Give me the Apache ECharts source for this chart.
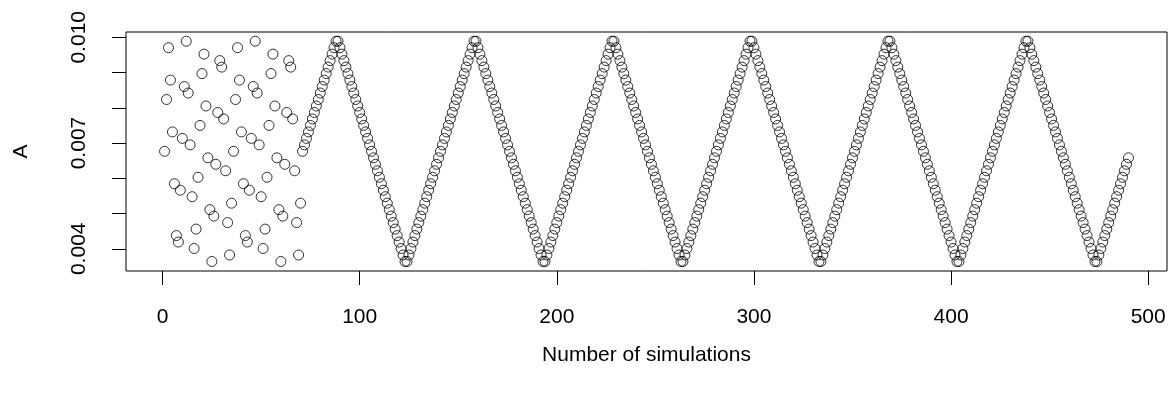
<!DOCTYPE html>
<html>
<head>
<meta charset="utf-8">
<script src="https://cdn.jsdelivr.net/npm/echarts@6/dist/echarts.min.js"></script>
<style>
html,body{margin:0;padding:0;background:#fff;}
#chart{width:1172px;height:398px;}
</style>
</head>
<body>
<div id="chart"></div>
<script>
// Values (one value per simulation, x = 1..490)
var scatterBlockA = [0.006765,0.008235,0.009705,0.008786,0.007316,0.005846,0.004375,0.004191,0.005662,0.007132,0.008603,0.009889,0.008419,0.006948,0.005478,0.004008,0.004559,0.006029,0.0075,0.00897,0.009522,0.008051,0.006581,0.00511,0.00364,0.004927,0.006397,0.007867,0.009338,0.009154,0.007684,0.006213,0.004743,0.003824,0.005294];
var scatterBlockB = [0.006765,0.008235,0.009705,0.008786,0.007316,0.005846,0.004375,0.004191,0.005662,0.007132,0.008603,0.009889,0.008419,0.006948,0.005478,0.004008,0.004559,0.006029,0.0075,0.00897,0.009522,0.008051,0.006581,0.00511,0.00364,0.004927,0.006397,0.007867,0.009338,0.009154,0.007684,0.006213,0.004743,0.003824,0.005294];
var firstRise = [0.006765,0.006948,0.007132,0.007316,0.0075,0.007684,0.007867,0.008051,0.008235,0.008419,0.008603,0.008786,0.00897,0.009154,0.009338,0.009522,0.009705,0.009889,0.009889];
var wave = [
0.009705,0.009522,0.009338,0.009154,0.00897,0.008786,0.008603,0.008419,0.008235,0.008051,0.007867,0.007684,0.0075,0.007316,0.007132,0.006948,0.006765,0.006581,0.006397,0.006213,0.006029,0.005846,0.005662,0.005478,0.005294,0.00511,0.004927,0.004743,0.004559,0.004375,0.004191,0.004008,0.003824,0.00364,0.00364,
0.003824,0.004008,0.004191,0.004375,0.004559,0.004743,0.004927,0.00511,0.005294,0.005478,0.005662,0.005846,0.006029,0.006213,0.006397,0.006581,0.006765,0.006948,0.007132,0.007316,0.0075,0.007684,0.007867,0.008051,0.008235,0.008419,0.008603,0.008786,0.00897,0.009154,0.009338,0.009522,0.009705,0.009889,0.009889,
0.009705,0.009522,0.009338,0.009154,0.00897,0.008786,0.008603,0.008419,0.008235,0.008051,0.007867,0.007684,0.0075,0.007316,0.007132,0.006948,0.006765,0.006581,0.006397,0.006213,0.006029,0.005846,0.005662,0.005478,0.005294,0.00511,0.004927,0.004743,0.004559,0.004375,0.004191,0.004008,0.003824,0.00364,0.00364,
0.003824,0.004008,0.004191,0.004375,0.004559,0.004743,0.004927,0.00511,0.005294,0.005478,0.005662,0.005846,0.006029,0.006213,0.006397,0.006581,0.006765,0.006948,0.007132,0.007316,0.0075,0.007684,0.007867,0.008051,0.008235,0.008419,0.008603,0.008786,0.00897,0.009154,0.009338,0.009522,0.009705,0.009889,0.009889,
0.009705,0.009522,0.009338,0.009154,0.00897,0.008786,0.008603,0.008419,0.008235,0.008051,0.007867,0.007684,0.0075,0.007316,0.007132,0.006948,0.006765,0.006581,0.006397,0.006213,0.006029,0.005846,0.005662,0.005478,0.005294,0.00511,0.004927,0.004743,0.004559,0.004375,0.004191,0.004008,0.003824,0.00364,0.00364,
0.003824,0.004008,0.004191,0.004375,0.004559,0.004743,0.004927,0.00511,0.005294,0.005478,0.005662,0.005846,0.006029,0.006213,0.006397,0.006581,0.006765,0.006948,0.007132,0.007316,0.0075,0.007684,0.007867,0.008051,0.008235,0.008419,0.008603,0.008786,0.00897,0.009154,0.009338,0.009522,0.009705,0.009889,0.009889,
0.009705,0.009522,0.009338,0.009154,0.00897,0.008786,0.008603,0.008419,0.008235,0.008051,0.007867,0.007684,0.0075,0.007316,0.007132,0.006948,0.006765,0.006581,0.006397,0.006213,0.006029,0.005846,0.005662,0.005478,0.005294,0.00511,0.004927,0.004743,0.004559,0.004375,0.004191,0.004008,0.003824,0.00364,0.00364,
0.003824,0.004008,0.004191,0.004375,0.004559,0.004743,0.004927,0.00511,0.005294,0.005478,0.005662,0.005846,0.006029,0.006213,0.006397,0.006581,0.006765,0.006948,0.007132,0.007316,0.0075,0.007684,0.007867,0.008051,0.008235,0.008419,0.008603,0.008786,0.00897,0.009154,0.009338,0.009522,0.009705,0.009889,0.009889,
0.009705,0.009522,0.009338,0.009154,0.00897,0.008786,0.008603,0.008419,0.008235,0.008051,0.007867,0.007684,0.0075,0.007316,0.007132,0.006948,0.006765,0.006581,0.006397,0.006213,0.006029,0.005846,0.005662,0.005478,0.005294,0.00511,0.004927,0.004743,0.004559,0.004375,0.004191,0.004008,0.003824,0.00364,0.00364,
0.003824,0.004008,0.004191,0.004375,0.004559,0.004743,0.004927,0.00511,0.005294,0.005478,0.005662,0.005846,0.006029,0.006213,0.006397,0.006581,0.006765,0.006948,0.007132,0.007316,0.0075,0.007684,0.007867,0.008051,0.008235,0.008419,0.008603,0.008786,0.00897,0.009154,0.009338,0.009522,0.009705,0.009889,0.009889,
0.009705,0.009522,0.009338,0.009154,0.00897,0.008786,0.008603,0.008419,0.008235,0.008051,0.007867,0.007684,0.0075,0.007316,0.007132,0.006948,0.006765,0.006581,0.006397,0.006213,0.006029,0.005846,0.005662,0.005478,0.005294,0.00511,0.004927,0.004743,0.004559,0.004375,0.004191,0.004008,0.003824,0.00364,0.00364
];
var lastRise = [0.003824,0.004008,0.004191,0.004375,0.004559,0.004743,0.004927,0.00511,0.005294,0.005478,0.005662,0.005846,0.006029,0.006213,0.006397,0.006581];

var xTicks = [0, 100, 200, 300, 400, 500];
var yTicks = [0.004, 0.005, 0.006, 0.007, 0.008, 0.009, 0.010];
var yLabels = [0.004, 0.007, 0.010];
var xTitle = 'Number of simulations';
var yTitle = 'A';

var values = [].concat(scatterBlockA, scatterBlockB, firstRise, wave, lastRise);
var points = values.map(function (v, i) { return [i + 1, v]; });

var FONT = "'Liberation Sans', Arial, sans-serif";
var chart = echarts.init(document.getElementById('chart'), null, {renderer: 'canvas'});
chart.setOption({
  animation: false,
  backgroundColor: '#ffffff',
  grid: {left: 126, right: 5, top: 32, bottom: 127, show: true, borderColor: '#000', borderWidth: 1, backgroundColor: 'transparent'},
  xAxis: {
    type: 'value', min: -18.56, max: 509.56,
    axisLine: {show: false, onZero: false},
    splitLine: {show: false},
    axisTick: {show: true, length: 14, lineStyle: {color: '#000', width: 1}, customValues: xTicks},
    axisLabel: {show: true, customValues: xTicks, margin: 36, color: '#000', fontFamily: FONT, fontSize: 21},
    name: xTitle, nameLocation: 'middle', nameGap: 74,
    nameTextStyle: {color: '#000', fontFamily: FONT, fontSize: 21}
  },
  yAxis: {
    type: 'value', min: 0.00337, max: 0.01015,
    axisLine: {show: false, onZero: false},
    splitLine: {show: false},
    axisTick: {show: true, length: 14, lineStyle: {color: '#000', width: 1}, customValues: yTicks},
    axisLabel: {show: true, customValues: yLabels, rotate: 90, margin: 36, color: '#000', fontFamily: FONT, fontSize: 21,
      formatter: function (v) { return v.toFixed(3); }},
    name: yTitle, nameLocation: 'middle', nameGap: 94, nameRotate: 90,
    nameTextStyle: {color: '#000', fontFamily: FONT, fontSize: 21}
  },
  series: [{
    type: 'scatter',
    data: points,
    symbol: 'circle',
    symbolSize: 10,
    itemStyle: {color: 'rgba(0,0,0,0)', borderColor: '#000', borderWidth: 1},
    emphasis: {disabled: true},
    silent: true
  }]
});
</script>
</body>
</html>
